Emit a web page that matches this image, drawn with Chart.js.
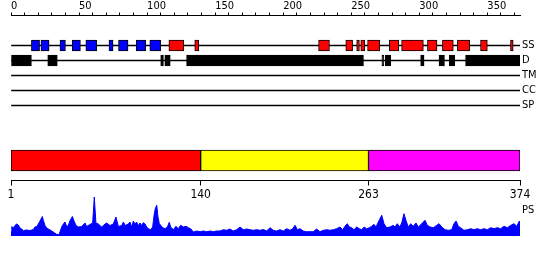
<!DOCTYPE html>
<html>
<head>
<meta charset="utf-8">
<script src="https://cdn.jsdelivr.net/npm/chart.js@4.4.1/dist/chart.umd.min.js"></script>
<style>
  body { margin: 0; background: #fff; }
  canvas { position: absolute; left: 0; }
</style>
</head>
<body>
<canvas id="tracks" width="550" height="125" style="top:0px"></canvas>
<canvas id="domains" width="550" height="80" style="top:130px"></canvas>
<canvas id="profile" width="550" height="50" style="top:190px"></canvas>
<script>
const seqLength = 374;
const trackNames = ["SS", "D", "TM", "CC", "SP"];
const rowLabels = ["", " ", "SS", "D", "TM", "CC", "SP", "  "];

// secondary structure: blue = strand, red = helix
const strands = [[15, 21], [22, 28], [36, 40], [45, 51], [55, 63], [72, 75], [79, 86], [92, 99], [102, 110]];
const helices = [[116, 127], [135, 138], [226, 234], [246, 251], [254, 256], [257, 260], [262, 271], [278, 285],
  [287, 303], [306, 313], [317, 325], [328, 337], [345, 350], [367, 369]];
// disordered regions
const disorder = [[0, 15], [27, 34], [110, 112], [113, 117], [129, 259], [272.5, 274], [275, 279],
  [301, 303.5], [314.5, 318.5], [322, 326], [334, 374]];

const domainStart = [1, 140, 263];
const domainEnd = [140, 263, 374];
const domainColors = ["#ff0000", "#ffff00", "#ff00ff"];
const domainTicks = [1, 140, 263, 374];

// PS profile
const psPos = [0, 0.6, 1.7, 2.9, 4.2, 5.4, 6.6, 7.8, 9.1, 11.5, 14, 16.4, 17.6, 18.9, 20.1, 21.3, 23, 23.8, 25, 26.2,
  28.7, 31.1, 33.5, 35.3, 36.5, 37.7, 39.7, 40.9, 42.1, 43.4, 45.1, 46.3, 47.8, 49.5, 51.9, 54.4, 55.6, 58, 60, 61.2,
  62.4, 64.2, 66.6, 69.1, 70.3, 72.7, 75.2, 77.1, 78.9, 81.3, 82.6, 83.8, 86.2, 87.4, 88.7, 89.9, 91.1, 92.3, 93.5, 94.8,
  96, 97.2, 98.5, 99.7, 100.9, 102.6, 104.1, 105.1, 106, 107.1, 108, 109, 110, 111.5, 113.2, 114.9, 116.3, 117.3, 119.3, 121.2,
  122.9, 124.7, 126.6, 128.6, 130.3, 132, 134, 136.4, 138.9, 141.3, 143.8, 146.2, 148.6, 151.1, 153.6, 156, 158.5, 160.9, 163.3, 165.8,
  168.3, 170.7, 173.2, 175.6, 178, 180.5, 183, 185.4, 187.9, 190.3, 192.7, 195.2, 197.6, 200.1, 202.6, 205, 207, 208.7, 210.4, 212.3,
  214.8, 217.2, 219.7, 222.1, 224.6, 227, 229.5, 232, 234.4, 236.8, 239.3, 241.7, 243.7, 245.4, 247.1, 248.6, 250.3, 252, 254, 255.9,
  257.7, 259.4, 261.3, 263.3, 265, 266.7, 268.2, 269.9, 272.4, 274.1, 276, 278.5, 280.9, 282.1, 283.8, 285.8, 287.3, 288.7, 290.2, 291.9,
  293.7, 295.6, 297.6, 299.3, 301.8, 304.2, 305.9, 307.9, 310.3, 312.8, 314.5, 316.5, 318.9, 321.3, 323.8, 325.5, 327, 328.7, 330.4, 332.8,
  335.3, 337.8, 340.2, 342.6, 345.1, 347.5, 350, 352.5, 354.9, 357.3, 359.8, 362.2, 364.7, 367.2, 369.6, 371.6, 373.5, 374];
const psVal = [4, 9.5, 8, 10.5, 12, 11, 8, 7, 5.5, 6, 5.5, 6.5, 9, 9.5, 12, 15, 19.5, 15.5, 10.5, 8,
  6, 4, 1.7, 1.3, 6, 10.5, 14, 9.5, 10.5, 15.5, 19.5, 15, 10.5, 9, 9.5, 13, 9.5, 11.5, 13, 39,
  13, 12, 9, 12, 13, 10.5, 12, 19, 9.5, 10.5, 14, 10.5, 12, 14, 9, 15, 12, 14, 10.5, 13,
  10.5, 13.3, 12, 9, 7.3, 6.3, 9, 20.7, 27.3, 30.7, 19, 12.3, 10.7, 8.3, 7.3, 9, 13.7, 9, 6.3, 9.7,
  7.3, 10.7, 9, 9.7, 8.3, 7.3, 4, 5, 4.3, 5, 4.3, 5, 4.3, 5, 5, 6.3, 5.7, 7, 5, 6.3,
  9, 6.3, 7, 6.3, 5.7, 6.3, 5.7, 6.5, 5, 8.3, 5.7, 5, 6.3, 5, 7.3, 5.7, 7.3, 10.7, 6.3, 7.3,
  5, 4.3, 4.3, 4.3, 7, 4.3, 5.7, 6.3, 5.7, 6.3, 7.3, 9, 6.3, 9.7, 12.3, 9, 8.3, 6.3, 9, 7.3,
  6.3, 9, 7.3, 8.3, 9.7, 11.7, 9, 14, 20.7, 12.3, 8.3, 9, 10.7, 9, 12.3, 9, 14, 22.3, 15.7, 9,
  12.3, 9.7, 13, 9, 12.3, 15.7, 10.7, 9, 8.3, 10.7, 12.3, 9, 6.3, 5.7, 6.3, 12.3, 15, 9.7, 8.3, 5.7,
  6.3, 7.3, 6.3, 7.3, 6.3, 7.3, 6.3, 8.3, 7.3, 8.3, 7.3, 9.7, 8.3, 10.7, 12.3, 9.7, 15, 14];

const labelFont = { family: "'DejaVu Sans Condensed', 'DejaVu Sans', sans-serif", size: 11 };

Chart.defaults.animation = false;
Chart.defaults.plugins.legend.display = false;
Chart.defaults.plugins.tooltip.enabled = false;

// fixed axis sizes, no extra label padding from the auto layout
function fixSize(w, h) {
  return (s) => {
    if (w !== null) s.width = w;
    if (h !== null) s.height = h;
    s.paddingTop = 0;
    s.paddingBottom = 0;
    s.paddingLeft = 0;
    s.paddingRight = 0;
  };
}

function boxSet(ranges, row, color) {
  return {
    data: ranges.map((r) => ({ y: row, x: r })),
    backgroundColor: color,
    borderColor: "#000",
    borderWidth: 1,
    borderSkipped: false,
    barThickness: 11,
    grouped: false,
    order: 0,
  };
}

const lineSets = trackNames.map((name) => ({
  data: [{ y: name, x: [0, seqLength] }],
  backgroundColor: "#000",
  borderWidth: 0,
  barThickness: 1,
  grouped: false,
  order: 1,
}));

// top: ruler + feature tracks
new Chart(document.getElementById("tracks"), {
  type: "bar",
  data: {
    labels: rowLabels,
    datasets: [boxSet(strands, "SS", "#0000ff"), boxSet(helices, "SS", "#ff0000"), boxSet(disorder, "D", "#000")].concat(lineSets),
  },
  options: {
    responsive: false,
    devicePixelRatio: 1,
    indexAxis: "y",
    layout: { padding: { left: 11, right: 0, top: 0, bottom: 4.5 } },
    scales: {
      x: {
        type: "linear",
        position: "top",
        min: 0,
        max: seqLength,
        afterFit: fixSize(null, 15.5),
        ticks: {
          stepSize: 10,
          includeBounds: false,
          autoSkip: false,
          maxRotation: 0,
          align: "start",
          padding: 0,
          color: "#000",
          font: labelFont,
          callback: (v) => (v % 50 === 0 ? v : ""),
        },
        grid: { drawOnChartArea: false, tickLength: 3, color: "#000" },
        border: { color: "#000" },
      },
      y: {
        type: "category",
        labels: rowLabels,
        position: "right",
        offset: false,
        afterFit: fixSize(30, null),
        grid: { display: false, drawTicks: false },
        border: { display: false },
        ticks: { autoSkip: false, padding: 2, color: "#000", font: labelFont },
      },
    },
  },
});

// domain bar + residue axis
new Chart(document.getElementById("domains"), {
  type: "bar",
  data: {
    labels: ["dom"],
    datasets: [{
      data: domainStart.map((s, i) => ({ y: "dom", x: [s, domainEnd[i]] })),
      backgroundColor: domainColors,
      borderColor: "#000",
      borderWidth: 1,
      borderSkipped: false,
      barThickness: 21,
      grouped: false,
    }],
  },
  options: {
    responsive: false,
    devicePixelRatio: 1,
    indexAxis: "y",
    layout: { padding: { left: 11, right: 30, top: 10.5, bottom: 0 } },
    scales: {
      x: {
        type: "linear",
        position: "bottom",
        min: 1,
        max: seqLength,
        afterBuildTicks: (s) => { s.ticks = domainTicks.map((v) => ({ value: v })); },
        afterFit: fixSize(null, 29.5),
        ticks: { autoSkip: false, maxRotation: 0, padding: 2, color: "#000", font: { family: labelFont.family, size: 12 } },
        grid: { drawOnChartArea: false, tickLength: 5, color: "#000" },
        border: { color: "#000" },
      },
      y: { display: false },
    },
  },
});

// PS profile
new Chart(document.getElementById("profile"), {
  type: "line",
  data: {
    datasets: [{
      data: psPos.map((x, i) => ({ x: x, y: psVal[i] })),
      borderColor: "#0000ff",
      backgroundColor: "#0000ff",
      borderWidth: 1,
      pointRadius: 0,
      tension: 0,
      fill: "origin",
    }],
  },
  options: {
    responsive: false,
    devicePixelRatio: 1,
    layout: { padding: { left: 11, right: 0, top: 6, bottom: 4 } },
    scales: {
      x: { type: "linear", min: 0, max: seqLength, display: false },
      y: {
        type: "linear",
        position: "right",
        min: 0,
        max: 40,
        afterFit: fixSize(30, null),
        afterBuildTicks: (s) => { s.ticks = [{ value: 26 }]; },
        grid: { display: false, drawTicks: false },
        border: { display: false },
        ticks: { padding: 2, color: "#000", font: labelFont, callback: () => "PS" },
      },
    },
  },
});
</script>
</body>
</html>
